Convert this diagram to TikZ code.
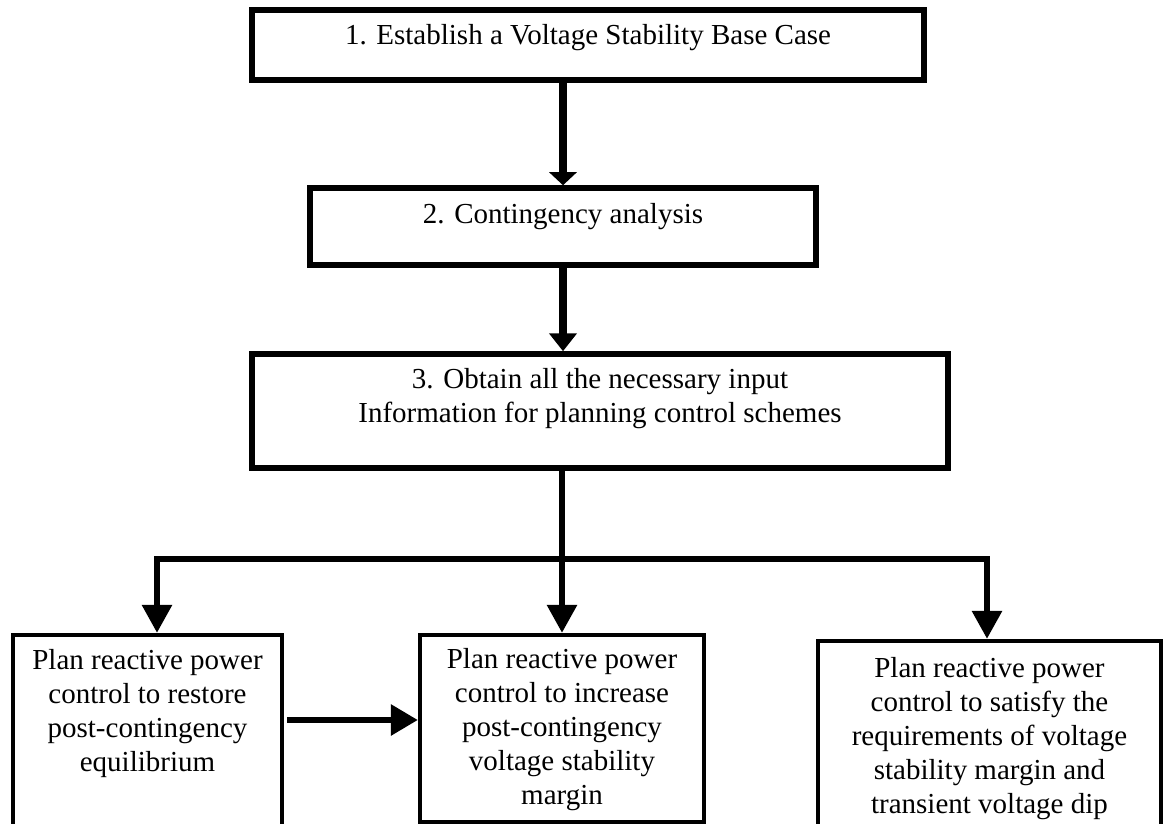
\documentclass[tikz,border=0pt]{standalone}
\usepackage{fontspec}
\setmainfont{Liberation Serif}
\usetikzlibrary{arrows.meta}
\newcommand{\steptext}[1]{\begin{tabular}[t]{@{}c@{}}#1\end{tabular}}

\begin{document}
\begin{tikzpicture}[x=1pt,y=-1pt,
  every node/.style={font=\fontsize{29}{34}\selectfont},
  stepbox/.style={draw=black,rectangle,inner sep=0pt,line width=5.5pt,anchor=base},
  planbox/.style={draw=black,rectangle,inner sep=0pt,line width=4.3pt,anchor=base},
  flow/.style={-{Triangle[length=28pt,width=29pt]},line width=6pt}]
 \useasboundingbox (0,0) rectangle (1163,824);

 \draw (588,45) node[stepbox,minimum width=672pt,text height=35pt,text depth=35pt] (basecase)
              {\steptext{1. Establish a Voltage Stability Base Case}};

 \draw (563,224) node[stepbox,minimum width=506pt,text height=36pt,text depth=41pt] (conting)
              {\steptext{2. Contingency analysis}};

 \draw (600,388) node[stepbox,minimum width=696pt,text height=34pt,text depth=80pt] (inputs)
              {\steptext{3. Obtain all the necessary input\\
                         Information for planning control schemes}};

 \draw (147.5,669) node[planbox,minimum width=269pt,text height=34pt,text depth=161pt] (restore)
              {\steptext{Plan reactive power\\ control to restore\\
                         post-contingency\\ equilibrium}};

 \draw (562,668) node[planbox,minimum width=284pt,text height=33pt,text depth=154pt] (increase)
              {\steptext{Plan reactive power\\ control to increase\\
                         post-contingency\\ voltage stability\\ margin}};

 \draw (989.5,677) node[planbox,minimum width=343pt,text height=36pt,text depth=153pt] (satisfy)
              {\steptext{Plan reactive power\\ control to satisfy the\\
                         requirements of voltage\\ stability margin and\\
                         transient voltage dip}};

 \draw[flow,-{Triangle[length=13pt,width=27pt]},line width=8pt]
      (conting.north |- basecase.south) -- (conting.north);
 \draw[flow,-{Triangle[length=18pt,width=27pt]},line width=8pt]
      (conting.south) -- (conting.south |- inputs.north);
 \draw[flow] (inputs.south -| increase.north) -- (increase.north);

 \coordinate (jl) at (157,559);
 \coordinate (jr) at (987,559);
 \draw[{Triangle[length=28pt,width=29pt]}-{Triangle[length=28pt,width=29pt]},line width=6pt]
      (jl |- restore.north) -- (jl) -- (jr) -- (jr |- satisfy.north);

 \coordinate (hx) at (287,720);
 \draw[flow,-{Triangle[length=27pt,width=30pt]}] (hx) -- (hx -| increase.west);
\end{tikzpicture}
\end{document}
